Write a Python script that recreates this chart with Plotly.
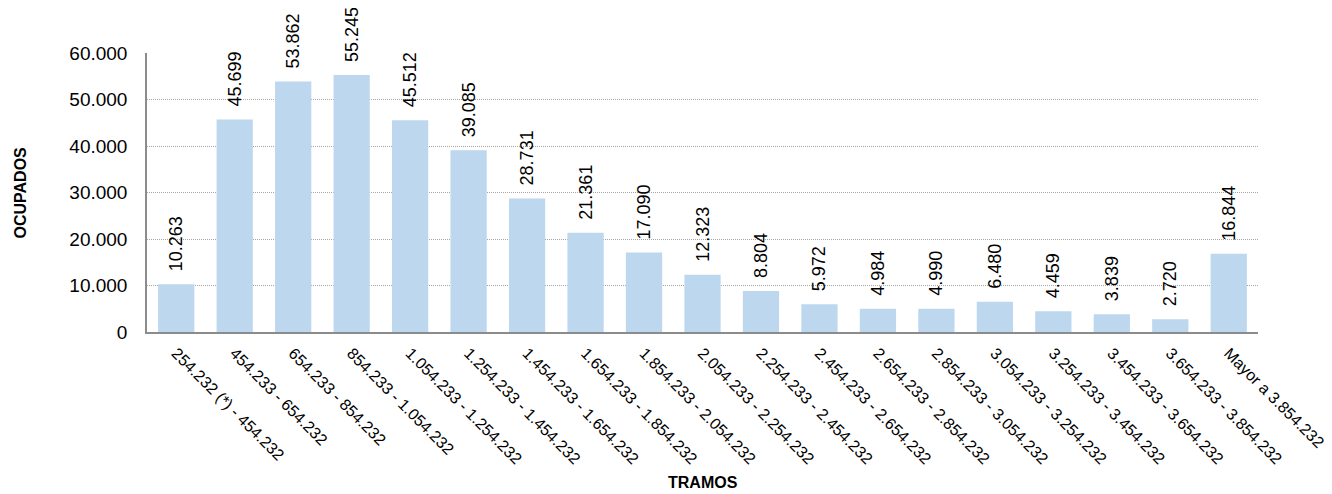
import plotly.graph_objects as go

categories = [
    "254.232 (*) - 454.232", "454.233 - 654.232", "654.233 - 854.232",
    "854.233 - 1.054.232", "1.054.233 - 1.254.232", "1.254.233 - 1.454.232",
    "1.454.233 - 1.654.232", "1.654.233 - 1.854.232", "1.854.233 - 2.054.232",
    "2.054.233 - 2.254.232", "2.254.233 - 2.454.232", "2.454.233 - 2.654.232",
    "2.654.233 - 2.854.232", "2.854.233 - 3.054.232", "3.054.233 - 3.254.232",
    "3.254.233 - 3.454.232", "3.454.233 - 3.654.232", "3.654.233 - 3.854.232",
    "Mayor a 3.854.232",
]
ocupados = [10263, 45699, 53862, 55245, 45512, 39085, 28731, 21361, 17090,
            12323, 8804, 5972, 4984, 4990, 6480, 4459, 3839, 2720, 16844]
y_ticks = [0, 10000, 20000, 30000, 40000, 50000, 60000]

fig = go.Figure(go.Bar(
    x=categories,
    y=ocupados,
    marker=dict(color="#BDD7EE", line=dict(width=0)),
    texttemplate="\u00a0\u00a0%{y:,.0f}",
    textposition="outside",
    textangle=-90,
    constraintext="none",
    cliponaxis=False,
    textfont=dict(family="Arial, Liberation Sans", size=18, color="#000000"),
))

fig.update_layout(
    width=1324, height=486,
    margin=dict(l=139, r=74, t=45, b=162, autoexpand=False),
    paper_bgcolor="white", plot_bgcolor="white",
    separators=",.",
    bargap=0.38,
    showlegend=False,
    font=dict(family="Arial, Liberation Sans", color="#000000"),
    xaxis=dict(
        automargin=False,
        tickangle=45,
        tickfont=dict(size=16, color="#000000"),
        showline=True, linecolor="#8C8C8C", linewidth=1.5,
        showgrid=False, ticks="", ticklabelstandoff=4,
    ),
    yaxis=dict(
        automargin=False,
        range=[0, 60000],
        tickvals=y_ticks,
        tickformat=",.0f",
        tickfont=dict(size=19, color="#000000"),
        showline=True, linecolor="#8C8C8C", linewidth=1.5,
        showgrid=True, gridcolor="#A6A6A6", griddash="1px,1px", gridwidth=1,
        zeroline=False, ticks="", ticklabelstandoff=14,
    ),
    annotations=[
        dict(text="<b>OCUPADOS</b>", xref="paper", yref="paper",
             x=-0.1143, y=0.5, xanchor="center", yanchor="middle",
             textangle=-90, showarrow=False,
             font=dict(size=16, color="#000000")),
        dict(text="<b>TRAMOS</b>", xref="paper", yref="paper",
             x=0.5, y=-0.541, xanchor="center", yanchor="middle",
             showarrow=False, font=dict(size=16, color="#000000")),
    ],
)

fig.write_html("out.html")
